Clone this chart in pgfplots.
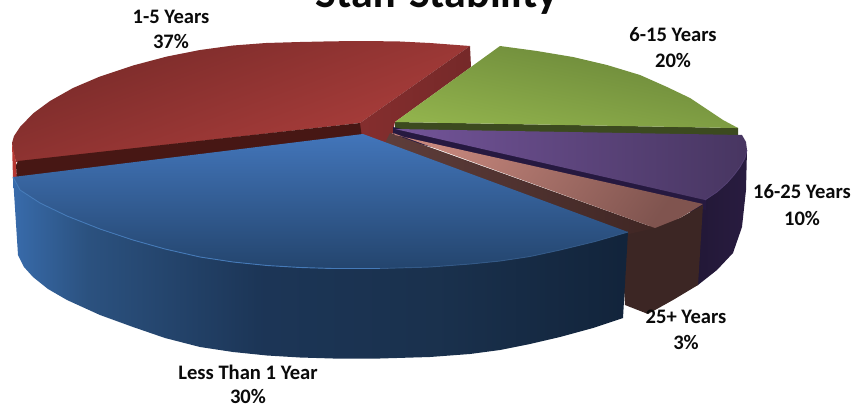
\documentclass[border=0pt]{standalone}
\usepackage{pgfplots}
\pgfplotsset{compat=1.18}
\usepackage{fontspec}
\setmainfont{Carlito}
\definecolor{lbl}{HTML}{0A0A0A}
\pgfdeclarehorizontalshading{bluefront}{100bp}{rgb(0bp)=(0.22,0.42,0.67); rgb(25bp)=(0.22,0.42,0.67); rgb(31bp)=(0.17,0.32,0.50); rgb(45bp)=(0.11,0.21,0.34); rgb(60bp)=(0.10,0.19,0.30); rgb(75bp)=(0.07,0.14,0.23); rgb(100bp)=(0.07,0.14,0.23)}
\pgfdeclarehorizontalshading{redface}{100bp}{rgb(0bp)=(0.52,0.18,0.18); rgb(25bp)=(0.52,0.18,0.18); rgb(75bp)=(0.46,0.16,0.16); rgb(100bp)=(0.46,0.16,0.16)}
\begin{document}
\begin{tikzpicture}
\path[use as bounding box] (0,0) rectangle (855pt,407pt);
\clip (0,0) rectangle (855pt,407pt);
\begin{axis}[at={(0,0)},anchor=south west,scale only axis,width=855pt,height=407pt,
  xmin=0,xmax=855,ymin=0,ymax=407,y dir=reverse,axis lines=none,clip=false]
% red top
\addplot[draw=none,top color={rgb,1:red,0.47;green,0.165;blue,0.16},bottom color={rgb,1:red,0.69;green,0.25;blue,0.24},shading angle=20] coordinates {
 (360,123)(16,162)(13,150)(12,143)(14,136)(20,127)(33,113.5)(50,101)(73,88)(100,76.5)(133,65.5)(167,56.5)(200,50)(233,45.5)(266,43)(300,42)(333,41.3)(367,41)(400,41.5)(430,43)(470,46)};
% red left side sliver
\addplot[draw=none,fill={rgb,1:red,0.72;green,0.22;blue,0.20}] coordinates {(12,143)(16,162)(17,178)(13,179)};
% red inner face right
\addplot[draw=none,shading=redface] coordinates {(470,46)(471,67)(395,122)(390,146)(363,140)(360,134)(360,123)};
% red front dark
\addplot[draw=none,fill={rgb,1:red,0.28;green,0.09;blue,0.08}] coordinates {(360,123)(362,138)(17,180)(16,165)(18,161)};
% green
\addplot[draw=none,fill={rgb,1:red,0.235;green,0.29;blue,0.12}] coordinates {(395,122)(395,130)(738,137)(738,128)};
\addplot[draw=none,top color={rgb,1:red,0.41;green,0.52;blue,0.22},bottom color={rgb,1:red,0.57;green,0.70;blue,0.30},shading angle=-12] coordinates {
 (395,122)(500,46)(537,51)(573,57)(607,65)(640,75)(667,87)(690,98)(708,110)(723,120)(738,128)(735,128)};
% purple side
\addplot[draw=none,left color={rgb,1:red,0.13;green,0.09;blue,0.21},right color={rgb,1:red,0.16;green,0.11;blue,0.25}] coordinates {
 (690,205)(727,183)(740,167)(747,150)(746,190)(742,227)(733,253)(717,270)(698,285)(690,288)};
% purple dark strip
\addplot[draw=none,fill={rgb,1:red,0.15;green,0.10;blue,0.25}] coordinates {(393,127)(706,198)(706,210)(393,138)};
% purple top
\addplot[draw=none,left color={rgb,1:red,0.45;green,0.33;blue,0.60},right color={rgb,1:red,0.28;green,0.21;blue,0.38}] coordinates {
 (395,129)(742,135)(746,142)(747,150)(745,158)(740,167)(734,175)(727,183)(717,192)(705,200)};
\addplot[color={rgb,1:red,0.33;green,0.25;blue,0.45},line width=0.8pt] coordinates {(747,150)(745,158)(740,167)(734,175)(727,183)(717,192)(705,200)};
% brown side front
\addplot[draw=none,fill={rgb,1:red,0.235;green,0.15;blue,0.14}] coordinates {
 (650,226)(680,218)(703,205)(698,285)(673,300)(648,314)(625,305)(620,230)};
% brown strip
\addplot[draw=none,left color={rgb,1:red,0.37;green,0.24;blue,0.23},right color={rgb,1:red,0.25;green,0.15;blue,0.14}] coordinates {(390,133)(385,143)(620,236)(655,228)};
% pink top
\addplot[draw=none,top color={rgb,1:red,0.78;green,0.53;blue,0.49},bottom color={rgb,1:red,0.50;green,0.33;blue,0.31},shading angle=55] coordinates {
 (393,133)(395,135)(703,204)(680,218)(655,228)};
% blue side
\addplot[draw=none,shading=bluefront] coordinates {
 (13,177)(20,190)(40,203)(67,216)(100,229)(133,240)(165,249)(200,257)(233,262)(267,265.5)(300,267.5)(333,268.5)(380,268.5)(430,267)(470,264)(500,261)(530,256.5)(560,250)(595,241.5)(628,232)
 (623,318)(593,328)(560,337)(530,344)(500,350)(470,354)(430,357)(380,358.5)(333,358.5)(300,357.5)(267,355.5)(233,352)(200,347)(165,338)(133,327)(100,315)(67,300)(48,289)(33,277)(24,267)(18,255)};
% blue top
\addplot[draw=none,top color={rgb,1:red,0.26;green,0.46;blue,0.73},bottom color={rgb,1:red,0.14;green,0.27;blue,0.43}] coordinates {
 (363,134)(13,177)(20,190)(40,203)(67,216)(100,229)(133,240)(165,249)(200,257)(233,262)(267,265.5)(300,267.5)(333,268.5)(380,268.5)(430,267)(470,264)(500,261)(530,256.5)(560,250)(595,241.5)(628,232)};
% blue rim highlight
\addplot[color={rgb,1:red,0.27;green,0.48;blue,0.72},line width=0.9pt] coordinates {
 (13,177)(20,190)(40,203)(67,216)(100,229)(133,240)(165,249)(200,257)(233,262)(267,265.5)(300,267.5)(333,268.5)(380,268.5)};
\addplot[color={rgb,1:red,0.20;green,0.35;blue,0.53},line width=0.9pt] coordinates {
 (380,268.5)(430,267)(470,264)(500,261)(530,256.5)(560,250)(595,241.5)(628,232)};
% labels
\node[font=\bfseries\fontsize{44}{44}\selectfont,text=lbl,anchor=base] at (axis cs:437,7) {Staff Stability};
\begin{scope}[every node/.style={font=\bfseries\fontsize{20.6}{20.6}\selectfont,text=lbl,anchor=center}]
\node at (axis cs:171,17) {1-5 Years}; \node at (axis cs:171,41) {37\%};
\node at (axis cs:673,35) {6-15 Years}; \node at (axis cs:673,60) {20\%};
\node at (axis cs:802,192) {16-25 Years}; \node at (axis cs:802,218) {10\%};
\node at (axis cs:686,317) {25+ Years}; \node at (axis cs:686,342) {3\%};
\node at (axis cs:248,372) {Less Than 1 Year}; \node at (axis cs:248,396.5) {30\%};
\end{scope}
\end{axis}
\end{tikzpicture}
\end{document}
